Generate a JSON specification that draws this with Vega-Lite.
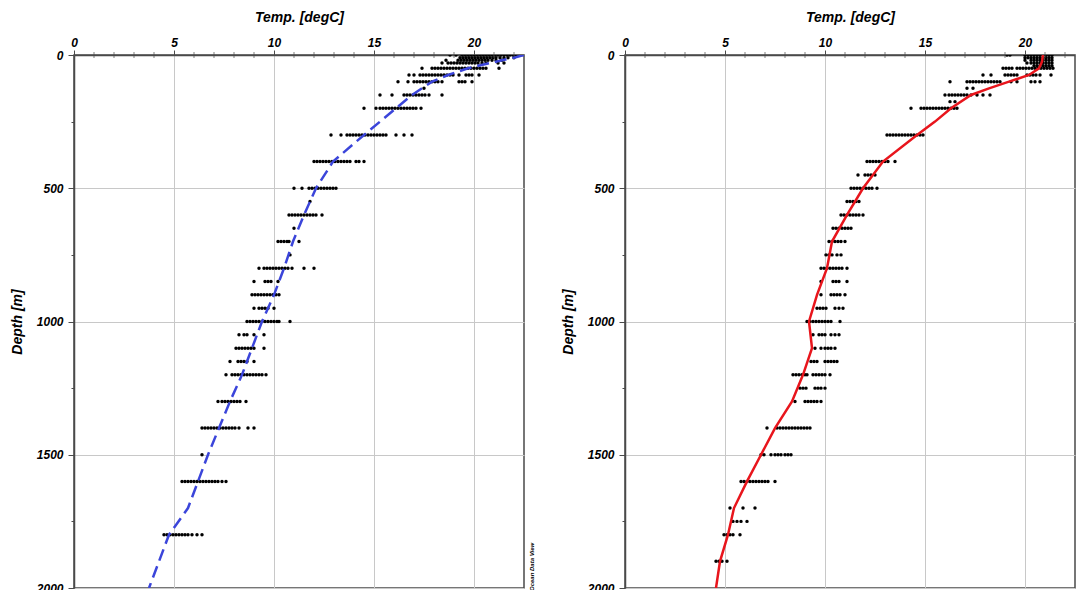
{
  "$schema": "https://vega.github.io/schema/vega-lite/v6.json",
  "padding": {"left": 9, "top": 9, "right": 5, "bottom": 0},
  "spacing": 24,
  "config": {
    "font": "Liberation Sans",
    "view": {"stroke": "#4a4a4a", "strokeWidth": 1.5},
    "axis": {
      "labelFont": "Liberation Sans", "labelFontSize": 12, "labelFontWeight": "bold", "labelFontStyle": "italic", "labelColor": "#000",
      "titleFont": "Liberation Sans", "titleFontSize": 14, "titleFontWeight": "bold", "titleFontStyle": "italic", "titleColor": "#000",
      "domainColor": "#4a4a4a", "domainWidth": 1.5, "tickColor": "#4a4a4a", "tickWidth": 1,
      "gridColor": "#c8c8c8", "labelOverlap": false, "labelFlush": false
    }
  },
  "datasets": {
    "minor": [{"v":1},{"v":2},{"v":3},{"v":4},{"v":6},{"v":7},{"v":8},{"v":9},{"v":11},{"v":12},{"v":13},{"v":14},{"v":16},{"v":17},{"v":18},{"v":19},{"v":21},{"v":22}],
    "lineL": [{"d":0,"t":22.5},{"d":10,"t":22.0},{"d":20,"t":21.4},{"d":30,"t":20.8},{"d":50,"t":19.7},{"d":75,"t":18.7},{"d":100,"t":17.9},{"d":125,"t":17.4},{"d":150,"t":16.9},{"d":200,"t":16.1},{"d":250,"t":15.3},{"d":300,"t":14.5},{"d":400,"t":12.95},{"d":500,"t":12.1},{"d":600,"t":11.5},{"d":700,"t":10.95},{"d":800,"t":10.5},{"d":900,"t":10.0},{"d":1000,"t":9.4},{"d":1100,"t":8.9},{"d":1200,"t":8.4},{"d":1300,"t":7.8},{"d":1400,"t":7.25},{"d":1500,"t":6.7},{"d":1600,"t":6.2},{"d":1700,"t":5.7},{"d":1800,"t":4.75},{"d":2000,"t":3.75}],
    "lineR": [{"d":0,"t":20.9},{"d":25,"t":20.85},{"d":50,"t":20.7},{"d":75,"t":20.2},{"d":100,"t":19.2},{"d":125,"t":18.2},{"d":150,"t":17.3},{"d":200,"t":16.3},{"d":250,"t":15.5},{"d":300,"t":14.6},{"d":400,"t":12.9},{"d":500,"t":11.9},{"d":600,"t":11.1},{"d":700,"t":10.35},{"d":800,"t":10.1},{"d":900,"t":9.6},{"d":1000,"t":9.2},{"d":1100,"t":9.35},{"d":1200,"t":8.9},{"d":1300,"t":8.35},{"d":1400,"t":7.5},{"d":1500,"t":6.8},{"d":1600,"t":6.1},{"d":1700,"t":5.45},{"d":1800,"t":5.15},{"d":1900,"t":4.75},{"d":2000,"t":4.55}],
    "dotsL": [
      {"d":0,"t":18.8},{"d":0,"t":19.1},{"d":0,"t":19.4},{"d":0,"t":19.55},{"d":0,"t":19.7},{"d":0,"t":19.85},{"d":0,"t":20.0},{"d":0,"t":20.15},{"d":0,"t":20.3},{"d":0,"t":20.45},{"d":0,"t":20.6},{"d":0,"t":20.75},{"d":0,"t":20.9},{"d":0,"t":21.05},{"d":0,"t":21.2},{"d":0,"t":21.35},{"d":0,"t":21.5},{"d":0,"t":21.65},{"d":0,"t":21.8},{"d":0,"t":21.95},{"d":0,"t":22.1},{"d":0,"t":22.3},
      {"d":10,"t":19.3},{"d":10,"t":19.45},{"d":10,"t":19.6},{"d":10,"t":19.75},{"d":10,"t":19.9},{"d":10,"t":20.05},{"d":10,"t":20.2},{"d":10,"t":20.35},{"d":10,"t":20.5},{"d":10,"t":20.65},{"d":10,"t":20.8},{"d":10,"t":20.95},{"d":10,"t":21.1},{"d":10,"t":21.3},{"d":10,"t":21.5},{"d":10,"t":21.7},{"d":10,"t":22.0},
      {"d":20,"t":18.6},{"d":20,"t":19.2},{"d":20,"t":19.35},{"d":20,"t":19.5},{"d":20,"t":19.65},{"d":20,"t":19.8},{"d":20,"t":19.95},{"d":20,"t":20.1},{"d":20,"t":20.25},{"d":20,"t":20.4},{"d":20,"t":20.55},{"d":20,"t":20.7},{"d":20,"t":20.9},{"d":20,"t":21.1},{"d":20,"t":21.4},
      {"d":30,"t":18.4},{"d":30,"t":18.7},{"d":30,"t":18.85},{"d":30,"t":19.0},{"d":30,"t":19.15},{"d":30,"t":19.3},{"d":30,"t":19.45},{"d":30,"t":19.6},{"d":30,"t":19.75},{"d":30,"t":19.9},{"d":30,"t":20.05},{"d":30,"t":20.2},{"d":30,"t":20.4},{"d":30,"t":20.6},{"d":30,"t":21.2},{"d":30,"t":21.5},
      {"d":50,"t":17.4},{"d":50,"t":17.9},{"d":50,"t":18.05},{"d":50,"t":18.2},{"d":50,"t":18.35},{"d":50,"t":18.5},{"d":50,"t":18.65},{"d":50,"t":18.8},{"d":50,"t":18.95},{"d":50,"t":19.1},{"d":50,"t":19.25},{"d":50,"t":19.4},{"d":50,"t":19.55},{"d":50,"t":19.7},{"d":50,"t":19.85},{"d":50,"t":20.0},{"d":50,"t":20.15},{"d":50,"t":20.3},{"d":50,"t":20.45},{"d":50,"t":20.6},{"d":50,"t":21.25},
      {"d":75,"t":16.75},{"d":75,"t":17.0},{"d":75,"t":17.3},{"d":75,"t":17.45},{"d":75,"t":17.6},{"d":75,"t":17.75},{"d":75,"t":17.9},{"d":75,"t":18.05},{"d":75,"t":18.2},{"d":75,"t":18.35},{"d":75,"t":18.5},{"d":75,"t":18.65},{"d":75,"t":18.8},{"d":75,"t":18.95},{"d":75,"t":19.25},{"d":75,"t":19.6},{"d":75,"t":19.75},{"d":75,"t":19.9},{"d":75,"t":20.25},
      {"d":100,"t":16.2},{"d":100,"t":16.7},{"d":100,"t":17.0},{"d":100,"t":17.15},{"d":100,"t":17.3},{"d":100,"t":17.45},{"d":100,"t":17.6},{"d":100,"t":17.75},{"d":100,"t":17.9},{"d":100,"t":18.05},{"d":100,"t":18.2},{"d":100,"t":18.4},{"d":100,"t":19.25},{"d":100,"t":19.4},{"d":100,"t":19.55},{"d":100,"t":19.9},
      {"d":125,"t":17.5},
      {"d":150,"t":15.3},{"d":150,"t":15.9},{"d":150,"t":16.5},{"d":150,"t":16.65},{"d":150,"t":16.8},{"d":150,"t":16.95},{"d":150,"t":17.1},{"d":150,"t":17.25},{"d":150,"t":17.4},{"d":150,"t":17.55},{"d":150,"t":17.75},{"d":150,"t":18.4},
      {"d":200,"t":14.5},{"d":200,"t":15.1},{"d":200,"t":15.3},{"d":200,"t":15.45},{"d":200,"t":15.6},{"d":200,"t":15.75},{"d":200,"t":15.9},{"d":200,"t":16.05},{"d":200,"t":16.2},{"d":200,"t":16.35},{"d":200,"t":16.5},{"d":200,"t":16.65},{"d":200,"t":16.8},{"d":200,"t":16.95},{"d":200,"t":17.1},{"d":200,"t":17.35},
      {"d":300,"t":12.85},{"d":300,"t":13.35},{"d":300,"t":13.65},{"d":300,"t":13.8},{"d":300,"t":13.95},{"d":300,"t":14.1},{"d":300,"t":14.25},{"d":300,"t":14.4},{"d":300,"t":14.55},{"d":300,"t":14.7},{"d":300,"t":14.85},{"d":300,"t":15.0},{"d":300,"t":15.15},{"d":300,"t":15.3},{"d":300,"t":15.45},{"d":300,"t":15.6},{"d":300,"t":16.1},{"d":300,"t":16.5},{"d":300,"t":16.9},
      {"d":400,"t":12.0},{"d":400,"t":12.15},{"d":400,"t":12.3},{"d":400,"t":12.45},{"d":400,"t":12.6},{"d":400,"t":12.75},{"d":400,"t":12.9},{"d":400,"t":13.05},{"d":400,"t":13.2},{"d":400,"t":13.35},{"d":400,"t":13.5},{"d":400,"t":13.65},{"d":400,"t":13.8},{"d":400,"t":14.1},{"d":400,"t":14.25},{"d":400,"t":14.5},
      {"d":500,"t":11.0},{"d":500,"t":11.4},{"d":500,"t":11.75},{"d":500,"t":11.9},{"d":500,"t":12.05},{"d":500,"t":12.2},{"d":500,"t":12.35},{"d":500,"t":12.5},{"d":500,"t":12.65},{"d":500,"t":12.8},{"d":500,"t":12.95},{"d":500,"t":13.1},
      {"d":550,"t":11.8},
      {"d":600,"t":10.75},{"d":600,"t":10.9},{"d":600,"t":11.05},{"d":600,"t":11.2},{"d":600,"t":11.35},{"d":600,"t":11.5},{"d":600,"t":11.65},{"d":600,"t":11.8},{"d":600,"t":11.95},{"d":600,"t":12.1},{"d":600,"t":12.4},
      {"d":650,"t":11.0},
      {"d":700,"t":10.2},{"d":700,"t":10.35},{"d":700,"t":10.5},{"d":700,"t":10.65},{"d":700,"t":10.75},{"d":700,"t":11.25},
      {"d":750,"t":10.8},
      {"d":800,"t":9.25},{"d":800,"t":9.5},{"d":800,"t":9.65},{"d":800,"t":9.8},{"d":800,"t":9.95},{"d":800,"t":10.1},{"d":800,"t":10.25},{"d":800,"t":10.4},{"d":800,"t":10.55},{"d":800,"t":10.7},{"d":800,"t":10.9},{"d":800,"t":11.5},{"d":800,"t":12.0},
      {"d":850,"t":9.0},{"d":850,"t":9.55},{"d":850,"t":9.7},{"d":850,"t":9.85},{"d":850,"t":10.2},
      {"d":900,"t":8.9},{"d":900,"t":9.05},{"d":900,"t":9.2},{"d":900,"t":9.35},{"d":900,"t":9.5},{"d":900,"t":9.65},{"d":900,"t":9.8},{"d":900,"t":9.95},{"d":900,"t":10.1},{"d":900,"t":10.25},
      {"d":950,"t":9.0},{"d":950,"t":9.25},{"d":950,"t":9.4},{"d":950,"t":9.55},{"d":950,"t":9.7},{"d":950,"t":10.0},
      {"d":1000,"t":8.65},{"d":1000,"t":8.8},{"d":1000,"t":8.95},{"d":1000,"t":9.1},{"d":1000,"t":9.25},{"d":1000,"t":9.4},{"d":1000,"t":9.55},{"d":1000,"t":9.7},{"d":1000,"t":9.85},{"d":1000,"t":10.0},{"d":1000,"t":10.15},{"d":1000,"t":10.25},{"d":1000,"t":10.8},
      {"d":1050,"t":8.25},{"d":1050,"t":8.5},{"d":1050,"t":8.65},{"d":1050,"t":9.0},{"d":1050,"t":9.5},
      {"d":1100,"t":8.1},{"d":1100,"t":8.25},{"d":1100,"t":8.4},{"d":1100,"t":8.55},{"d":1100,"t":8.7},{"d":1100,"t":8.85},{"d":1100,"t":9.0},{"d":1100,"t":9.5},
      {"d":1150,"t":7.8},{"d":1150,"t":8.2},{"d":1150,"t":8.35},{"d":1150,"t":8.5},{"d":1150,"t":8.65},{"d":1150,"t":9.0},
      {"d":1200,"t":7.6},{"d":1200,"t":7.9},{"d":1200,"t":8.05},{"d":1200,"t":8.2},{"d":1200,"t":8.35},{"d":1200,"t":8.5},{"d":1200,"t":8.65},{"d":1200,"t":8.8},{"d":1200,"t":8.95},{"d":1200,"t":9.1},{"d":1200,"t":9.25},{"d":1200,"t":9.4},{"d":1200,"t":9.6},
      {"d":1300,"t":7.2},{"d":1300,"t":7.4},{"d":1300,"t":7.55},{"d":1300,"t":7.7},{"d":1300,"t":7.85},{"d":1300,"t":8.0},{"d":1300,"t":8.15},{"d":1300,"t":8.3},{"d":1300,"t":8.6},
      {"d":1400,"t":6.4},{"d":1400,"t":6.55},{"d":1400,"t":6.7},{"d":1400,"t":6.85},{"d":1400,"t":7.0},{"d":1400,"t":7.15},{"d":1400,"t":7.3},{"d":1400,"t":7.45},{"d":1400,"t":7.6},{"d":1400,"t":7.75},{"d":1400,"t":7.9},{"d":1400,"t":8.05},{"d":1400,"t":8.25},{"d":1400,"t":8.7},{"d":1400,"t":9.0},
      {"d":1500,"t":6.4},
      {"d":1600,"t":5.4},{"d":1600,"t":5.55},{"d":1600,"t":5.7},{"d":1600,"t":5.85},{"d":1600,"t":6.0},{"d":1600,"t":6.15},{"d":1600,"t":6.3},{"d":1600,"t":6.45},{"d":1600,"t":6.6},{"d":1600,"t":6.75},{"d":1600,"t":6.9},{"d":1600,"t":7.05},{"d":1600,"t":7.2},{"d":1600,"t":7.4},{"d":1600,"t":7.6},
      {"d":1800,"t":4.5},{"d":1800,"t":4.65},{"d":1800,"t":4.8},{"d":1800,"t":4.95},{"d":1800,"t":5.1},{"d":1800,"t":5.25},{"d":1800,"t":5.4},{"d":1800,"t":5.55},{"d":1800,"t":5.7},{"d":1800,"t":5.9},{"d":1800,"t":6.15},{"d":1800,"t":6.4}
    ],
    "dotsR": [
      {"d":0,"t":19.1},{"d":0,"t":19.25},{"d":0,"t":20.0},{"d":0,"t":20.15},{"d":0,"t":20.3},{"d":0,"t":20.45},{"d":0,"t":20.6},{"d":0,"t":20.75},{"d":0,"t":20.9},{"d":0,"t":21.05},{"d":0,"t":21.2},{"d":0,"t":21.35},
      {"d":10,"t":20.0},{"d":10,"t":20.15},{"d":10,"t":20.3},{"d":10,"t":20.45},{"d":10,"t":20.6},{"d":10,"t":20.75},{"d":10,"t":20.9},{"d":10,"t":21.05},{"d":10,"t":21.2},{"d":10,"t":21.35},
      {"d":20,"t":20.0},{"d":20,"t":20.3},{"d":20,"t":20.45},{"d":20,"t":20.6},{"d":20,"t":20.75},{"d":20,"t":20.9},{"d":20,"t":21.05},{"d":20,"t":21.2},{"d":20,"t":21.35},
      {"d":30,"t":20.1},{"d":30,"t":20.3},{"d":30,"t":20.45},{"d":30,"t":20.6},{"d":30,"t":20.75},{"d":30,"t":20.9},{"d":30,"t":21.05},{"d":30,"t":21.2},{"d":30,"t":21.35},
      {"d":40,"t":20.45},{"d":40,"t":20.6},{"d":40,"t":20.75},{"d":40,"t":20.9},{"d":40,"t":21.05},{"d":40,"t":21.2},{"d":40,"t":21.35},
      {"d":50,"t":18.9},{"d":50,"t":19.05},{"d":50,"t":19.2},{"d":50,"t":19.35},{"d":50,"t":19.6},{"d":50,"t":19.75},{"d":50,"t":19.9},{"d":50,"t":20.05},{"d":50,"t":20.2},{"d":50,"t":20.35},{"d":50,"t":20.5},{"d":50,"t":20.65},{"d":50,"t":20.8},{"d":50,"t":20.95},{"d":50,"t":21.1},{"d":50,"t":21.25},{"d":50,"t":21.4},
      {"d":75,"t":17.9},{"d":75,"t":18.3},{"d":75,"t":19.0},{"d":75,"t":19.15},{"d":75,"t":19.3},{"d":75,"t":19.45},{"d":75,"t":19.6},{"d":75,"t":20.1},{"d":75,"t":20.25},{"d":75,"t":20.4},{"d":75,"t":20.55},{"d":75,"t":20.75},{"d":75,"t":21.3},
      {"d":100,"t":16.25},{"d":100,"t":17.1},{"d":100,"t":17.25},{"d":100,"t":17.4},{"d":100,"t":17.55},{"d":100,"t":17.7},{"d":100,"t":17.85},{"d":100,"t":18.0},{"d":100,"t":18.15},{"d":100,"t":18.3},{"d":100,"t":18.45},{"d":100,"t":18.6},{"d":100,"t":18.75},{"d":100,"t":19.3},{"d":100,"t":19.6},{"d":100,"t":20.3},{"d":100,"t":20.5},{"d":100,"t":20.75},
      {"d":125,"t":17.1},{"d":125,"t":17.4},
      {"d":150,"t":16.0},{"d":150,"t":16.2},{"d":150,"t":16.35},{"d":150,"t":16.5},{"d":150,"t":16.65},{"d":150,"t":16.8},{"d":150,"t":16.95},{"d":150,"t":17.1},{"d":150,"t":17.3},{"d":150,"t":17.6},{"d":150,"t":17.9},{"d":150,"t":18.25},
      {"d":175,"t":16.25},{"d":175,"t":16.5},
      {"d":200,"t":14.3},{"d":200,"t":14.8},{"d":200,"t":14.95},{"d":200,"t":15.1},{"d":200,"t":15.25},{"d":200,"t":15.4},{"d":200,"t":15.55},{"d":200,"t":15.7},{"d":200,"t":15.85},{"d":200,"t":16.0},{"d":200,"t":16.15},{"d":200,"t":16.3},{"d":200,"t":16.45},{"d":200,"t":16.6},
      {"d":300,"t":13.1},{"d":300,"t":13.25},{"d":300,"t":13.4},{"d":300,"t":13.55},{"d":300,"t":13.7},{"d":300,"t":13.85},{"d":300,"t":14.0},{"d":300,"t":14.15},{"d":300,"t":14.3},{"d":300,"t":14.45},{"d":300,"t":14.6},{"d":300,"t":14.75},{"d":300,"t":14.9},
      {"d":400,"t":12.1},{"d":400,"t":12.25},{"d":400,"t":12.4},{"d":400,"t":12.55},{"d":400,"t":12.7},{"d":400,"t":12.85},{"d":400,"t":13.0},{"d":400,"t":13.15},{"d":400,"t":13.5},
      {"d":450,"t":11.65},{"d":450,"t":12.0},{"d":450,"t":12.15},{"d":450,"t":12.3},{"d":450,"t":12.5},
      {"d":500,"t":11.3},{"d":500,"t":11.45},{"d":500,"t":11.6},{"d":500,"t":11.75},{"d":500,"t":11.9},{"d":500,"t":12.05},{"d":500,"t":12.2},{"d":500,"t":12.35},{"d":500,"t":12.6},
      {"d":550,"t":11.1},{"d":550,"t":11.25},{"d":550,"t":11.4},{"d":550,"t":11.55},{"d":550,"t":11.7},
      {"d":600,"t":10.8},{"d":600,"t":10.95},{"d":600,"t":11.1},{"d":600,"t":11.25},{"d":600,"t":11.4},{"d":600,"t":11.55},{"d":600,"t":11.7},{"d":600,"t":11.9},
      {"d":650,"t":10.4},{"d":650,"t":10.55},{"d":650,"t":10.7},{"d":650,"t":10.85},{"d":650,"t":11.0},{"d":650,"t":11.15},{"d":650,"t":11.3},
      {"d":700,"t":10.2},{"d":700,"t":10.35},{"d":700,"t":10.5},{"d":700,"t":10.65},{"d":700,"t":10.8},{"d":700,"t":11.0},
      {"d":750,"t":10.05},{"d":750,"t":10.2},{"d":750,"t":10.35},{"d":750,"t":10.6},{"d":750,"t":10.8},
      {"d":800,"t":9.8},{"d":800,"t":9.95},{"d":800,"t":10.1},{"d":800,"t":10.25},{"d":800,"t":10.4},{"d":800,"t":10.55},{"d":800,"t":10.7},{"d":800,"t":10.85},{"d":800,"t":11.1},
      {"d":850,"t":9.8},{"d":850,"t":10.4},{"d":850,"t":10.55},{"d":850,"t":10.7},{"d":850,"t":11.1},
      {"d":900,"t":9.8},{"d":900,"t":10.3},{"d":900,"t":10.45},{"d":900,"t":10.6},{"d":900,"t":10.75},{"d":900,"t":11.0},
      {"d":950,"t":9.6},{"d":950,"t":9.75},{"d":950,"t":9.9},{"d":950,"t":10.05},{"d":950,"t":10.5},{"d":950,"t":10.7},{"d":950,"t":10.9},
      {"d":1000,"t":9.1},{"d":1000,"t":9.25},{"d":1000,"t":9.4},{"d":1000,"t":9.55},{"d":1000,"t":9.7},{"d":1000,"t":9.85},{"d":1000,"t":10.0},{"d":1000,"t":10.15},{"d":1000,"t":10.3},{"d":1000,"t":10.75},
      {"d":1050,"t":9.4},{"d":1050,"t":9.7},{"d":1050,"t":9.85},{"d":1050,"t":10.0},{"d":1050,"t":10.3},{"d":1050,"t":10.5},{"d":1050,"t":10.7},
      {"d":1100,"t":9.5},{"d":1100,"t":9.8},{"d":1100,"t":10.0},{"d":1100,"t":10.15},{"d":1100,"t":10.3},{"d":1100,"t":10.5},
      {"d":1150,"t":9.3},{"d":1150,"t":9.45},{"d":1150,"t":9.6},{"d":1150,"t":10.0},{"d":1150,"t":10.15},{"d":1150,"t":10.3},{"d":1150,"t":10.45},{"d":1150,"t":10.6},
      {"d":1200,"t":8.4},{"d":1200,"t":8.55},{"d":1200,"t":8.7},{"d":1200,"t":8.85},{"d":1200,"t":9.0},{"d":1200,"t":9.1},{"d":1200,"t":9.4},{"d":1200,"t":9.55},{"d":1200,"t":9.7},{"d":1200,"t":9.85},{"d":1200,"t":10.0},{"d":1200,"t":10.25},
      {"d":1250,"t":8.75},{"d":1250,"t":8.9},{"d":1250,"t":9.05},{"d":1250,"t":9.5},{"d":1250,"t":9.65},{"d":1250,"t":9.8},{"d":1250,"t":10.0},
      {"d":1300,"t":8.5},{"d":1300,"t":9.0},{"d":1300,"t":9.15},{"d":1300,"t":9.3},{"d":1300,"t":9.45},{"d":1300,"t":9.6},{"d":1300,"t":9.8},
      {"d":1400,"t":7.1},{"d":1400,"t":7.6},{"d":1400,"t":7.75},{"d":1400,"t":7.9},{"d":1400,"t":8.05},{"d":1400,"t":8.2},{"d":1400,"t":8.35},{"d":1400,"t":8.5},{"d":1400,"t":8.65},{"d":1400,"t":8.8},{"d":1400,"t":8.95},{"d":1400,"t":9.1},{"d":1400,"t":9.25},
      {"d":1500,"t":6.8},{"d":1500,"t":6.95},{"d":1500,"t":7.3},{"d":1500,"t":7.5},{"d":1500,"t":7.65},{"d":1500,"t":7.8},{"d":1500,"t":8.0},{"d":1500,"t":8.15},{"d":1500,"t":8.3},
      {"d":1600,"t":5.8},{"d":1600,"t":5.95},{"d":1600,"t":6.1},{"d":1600,"t":6.25},{"d":1600,"t":6.4},{"d":1600,"t":6.55},{"d":1600,"t":6.7},{"d":1600,"t":6.85},{"d":1600,"t":7.0},{"d":1600,"t":7.15},{"d":1600,"t":7.5},
      {"d":1700,"t":5.25},{"d":1700,"t":5.9},{"d":1700,"t":6.5},
      {"d":1750,"t":5.4},{"d":1750,"t":5.6},{"d":1750,"t":5.8},{"d":1750,"t":6.1},
      {"d":1800,"t":4.95},{"d":1800,"t":5.1},{"d":1800,"t":5.25},{"d":1800,"t":5.4},{"d":1800,"t":5.75},
      {"d":1900,"t":4.55},{"d":1900,"t":4.7},{"d":1900,"t":4.85},{"d":1900,"t":5.1}
    ]
  },
  "hconcat": [
    {
      "width": 450,
      "height": 533,
      "layer": [
        {
          "data": {"name": "dotsL"},
          "mark": {"type": "circle", "color": "#000", "size": 12, "opacity": 1, "clip": true},
          "encoding": {
            "x": {"field": "t", "type": "quantitative", "scale": {"domain": [0, 22.5], "nice": false, "zero": false},
              "axis": {"orient": "top", "title": "Temp. [degC]", "titlePadding": 12, "values": [0, 5, 10, 15, 20],
                "labelPadding": 1, "labelOverlap": false, "labelFlush": false, "grid": true, "tickSize": 5}},
            "y": {"field": "d", "type": "quantitative", "scale": {"domain": [0, 2000], "reverse": true, "nice": false, "zero": false},
              "axis": {"title": "Depth [m]", "titlePadding": 12, "values": [0,250,500,750,1000,1250,1500,1750,2000],
                "labelExpr": "datum.value % 500 === 0 ? datum.label : ''", "labelPadding": 5, "format": "d", "labelOverlap": false, "labelFlush": false,
                "grid": true, "gridColor": {"condition": {"test": "datum.value % 500 === 0", "value": "#c8c8c8"}, "value": "rgba(0,0,0,0)"},
                "tickSize": {"condition": {"test": "datum.value % 500 === 0", "value": 6}, "value": 3}}}
          }
        },
        {
          "data": {"name": "minor"},
          "mark": {"type": "tick", "orient": "vertical", "size": 6, "thickness": 1, "color": "#4a4a4a", "clip": false},
          "encoding": {
            "x": {"field": "v", "type": "quantitative"},
            "y": {"datum": 0}
          }
        },
        {
          "data": {"name": "lineL"},
          "mark": {"type": "line", "color": "#3b45da", "strokeWidth": 2.5, "strokeDash": [12, 6], "clip": true},
          "encoding": {
            "x": {"field": "t", "type": "quantitative"},
            "y": {"field": "d", "type": "quantitative"},
            "order": {"field": "d", "type": "quantitative"}
          }
        },
        {
          "data": {"values": [{"label": "Ocean Data View"}]},
          "mark": {"type": "text", "angle": 270, "align": "left", "baseline": "middle", "fontSize": 6, "fontWeight": "bold", "fontStyle": "italic", "font": "Liberation Sans", "color": "#000", "dx": -3, "dy": 8},
          "encoding": {
            "x": {"datum": 22.5},
            "y": {"datum": 2000},
            "text": {"field": "label"}
          }
        }
      ]
    },
    {
      "width": 450,
      "height": 533,
      "layer": [
        {
          "data": {"name": "dotsR"},
          "mark": {"type": "circle", "color": "#000", "size": 12, "opacity": 1, "clip": true},
          "encoding": {
            "x": {"field": "t", "type": "quantitative", "scale": {"domain": [0, 22.5], "nice": false, "zero": false},
              "axis": {"orient": "top", "title": "Temp. [degC]", "titlePadding": 12, "values": [0, 5, 10, 15, 20],
                "labelPadding": 1, "labelOverlap": false, "labelFlush": false, "grid": true, "tickSize": 5}},
            "y": {"field": "d", "type": "quantitative", "scale": {"domain": [0, 2000], "reverse": true, "nice": false, "zero": false},
              "axis": {"title": "Depth [m]", "titlePadding": 12, "values": [0,250,500,750,1000,1250,1500,1750,2000],
                "labelExpr": "datum.value % 500 === 0 ? datum.label : ''", "labelPadding": 5, "format": "d", "labelOverlap": false, "labelFlush": false,
                "grid": true, "gridColor": {"condition": {"test": "datum.value % 500 === 0", "value": "#c8c8c8"}, "value": "rgba(0,0,0,0)"},
                "tickSize": {"condition": {"test": "datum.value % 500 === 0", "value": 6}, "value": 3}}}
          }
        },
        {
          "data": {"name": "minor"},
          "mark": {"type": "tick", "orient": "vertical", "size": 6, "thickness": 1, "color": "#4a4a4a", "clip": false},
          "encoding": {
            "x": {"field": "v", "type": "quantitative"},
            "y": {"datum": 0}
          }
        },
        {
          "data": {"name": "lineR"},
          "mark": {"type": "line", "color": "#e8151c", "strokeWidth": 2.5, "clip": true},
          "encoding": {
            "x": {"field": "t", "type": "quantitative"},
            "y": {"field": "d", "type": "quantitative"},
            "order": {"field": "d", "type": "quantitative"}
          }
        }
      ]
    }
  ]
}
